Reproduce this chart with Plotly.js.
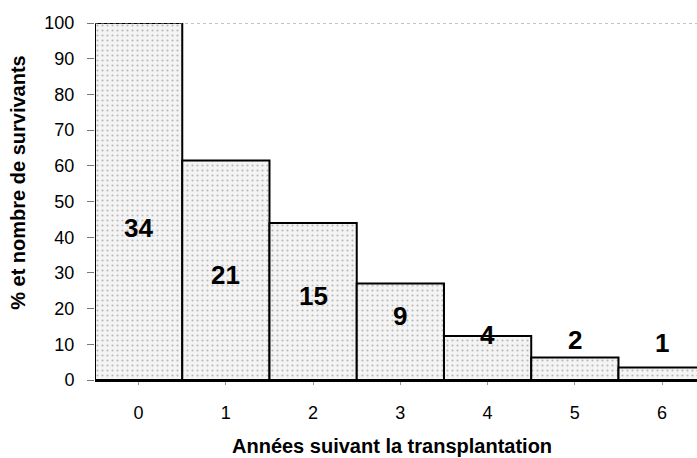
<!DOCTYPE html>
<html>
<head>
<meta charset="utf-8">
<script src="https://cdn.plot.ly/plotly-3.0.1.min.js"></script>
<style>html,body{margin:0;padding:0;background:#fff;}#chart{width:697px;height:458px;}</style>
</head>
<body>
<div id="chart"></div>
<script>
const years = [0, 1, 2, 3, 4, 5, 6];
const survivalPct = [100, 61.5, 44, 27, 12.3, 6.3, 3.5];
const survivors = ["34", "21", "15", "9", "4", "2", "1"];
const labelY = [42.5, 29.5, 23.5, 18, 12.6, 11.2, 10.4];
const yTicks = [0, 10, 20, 30, 40, 50, 60, 70, 80, 90, 100];
const xTitle = 'Années suivant la transplantation';
const yTitle = '% et nombre de survivants';

const FONT = 'Liberation Sans, Arial, sans-serif';

const trace = {
  type: 'bar',
  x: years,
  y: survivalPct,
  width: 1,
  marker: {
    color: '#e6e6e6',
    line: {color: '#000', width: 2},
    pattern: {shape: '.', fgcolor: '#b8b8b8', bgcolor: '#f4f4f4', size: 5, solidity: 0.15}
  },
  hoverinfo: 'skip'
};

const annotations = years.map((yr, i) => ({
  x: yr, y: labelY[i], xref: 'x', yref: 'y',
  text: '<b>' + survivors[i] + '</b>',
  showarrow: false,
  font: {family: FONT, size: 26, color: '#000'}
}));

annotations.push({
  xref: 'paper', yref: 'paper', x: 0.494, y: -0.185,
  xanchor: 'center', yanchor: 'middle',
  text: '<b>' + xTitle + '</b>', showarrow: false,
  font: {family: FONT, size: 20, color: '#000'}
});
annotations.push({
  xref: 'paper', yref: 'paper', x: -0.128, y: 0.555,
  xanchor: 'center', yanchor: 'middle', textangle: -90,
  text: '<b>' + yTitle + '</b>', showarrow: false,
  font: {family: FONT, size: 20, color: '#000'}
});

const layout = {
  width: 697, height: 458,
  margin: {l: 95, r: 0, t: 23, b: 78},
  paper_bgcolor: '#fff', plot_bgcolor: '#fff',
  showlegend: false,
  bargap: 0,
  font: {family: FONT, color: '#000'},
  xaxis: {
    range: [-0.5, 6.4],
    tickvals: years,
    ticktext: years.map(String),
    ticks: 'outside', ticklen: 3, tickcolor: '#999', tickwidth: 1,
    tickfont: {size: 18, color: '#000'},
    ticklabelstandoff: 12,
    showgrid: false, zeroline: false,
    showline: true, linecolor: '#000', linewidth: 2
  },
  yaxis: {
    range: [0, 100],
    tickvals: yTicks,
    ticks: 'outside', ticklen: 7, tickcolor: '#777', tickwidth: 1,
    tickfont: {size: 18, color: '#000'},
    ticklabelstandoff: 9,
    showgrid: false, zeroline: false,
    showline: false
  },
  shapes: [
    {type: 'line', xref: 'paper', yref: 'y', x0: 0, x1: 1, y0: 100, y1: 100, line: {color: '#888', width: 1, dash: 'dot'}}
  ],
  annotations: annotations
};

Plotly.newPlot('chart', [trace], layout, {displayModeBar: false, staticPlot: true});
</script>
</body>
</html>
